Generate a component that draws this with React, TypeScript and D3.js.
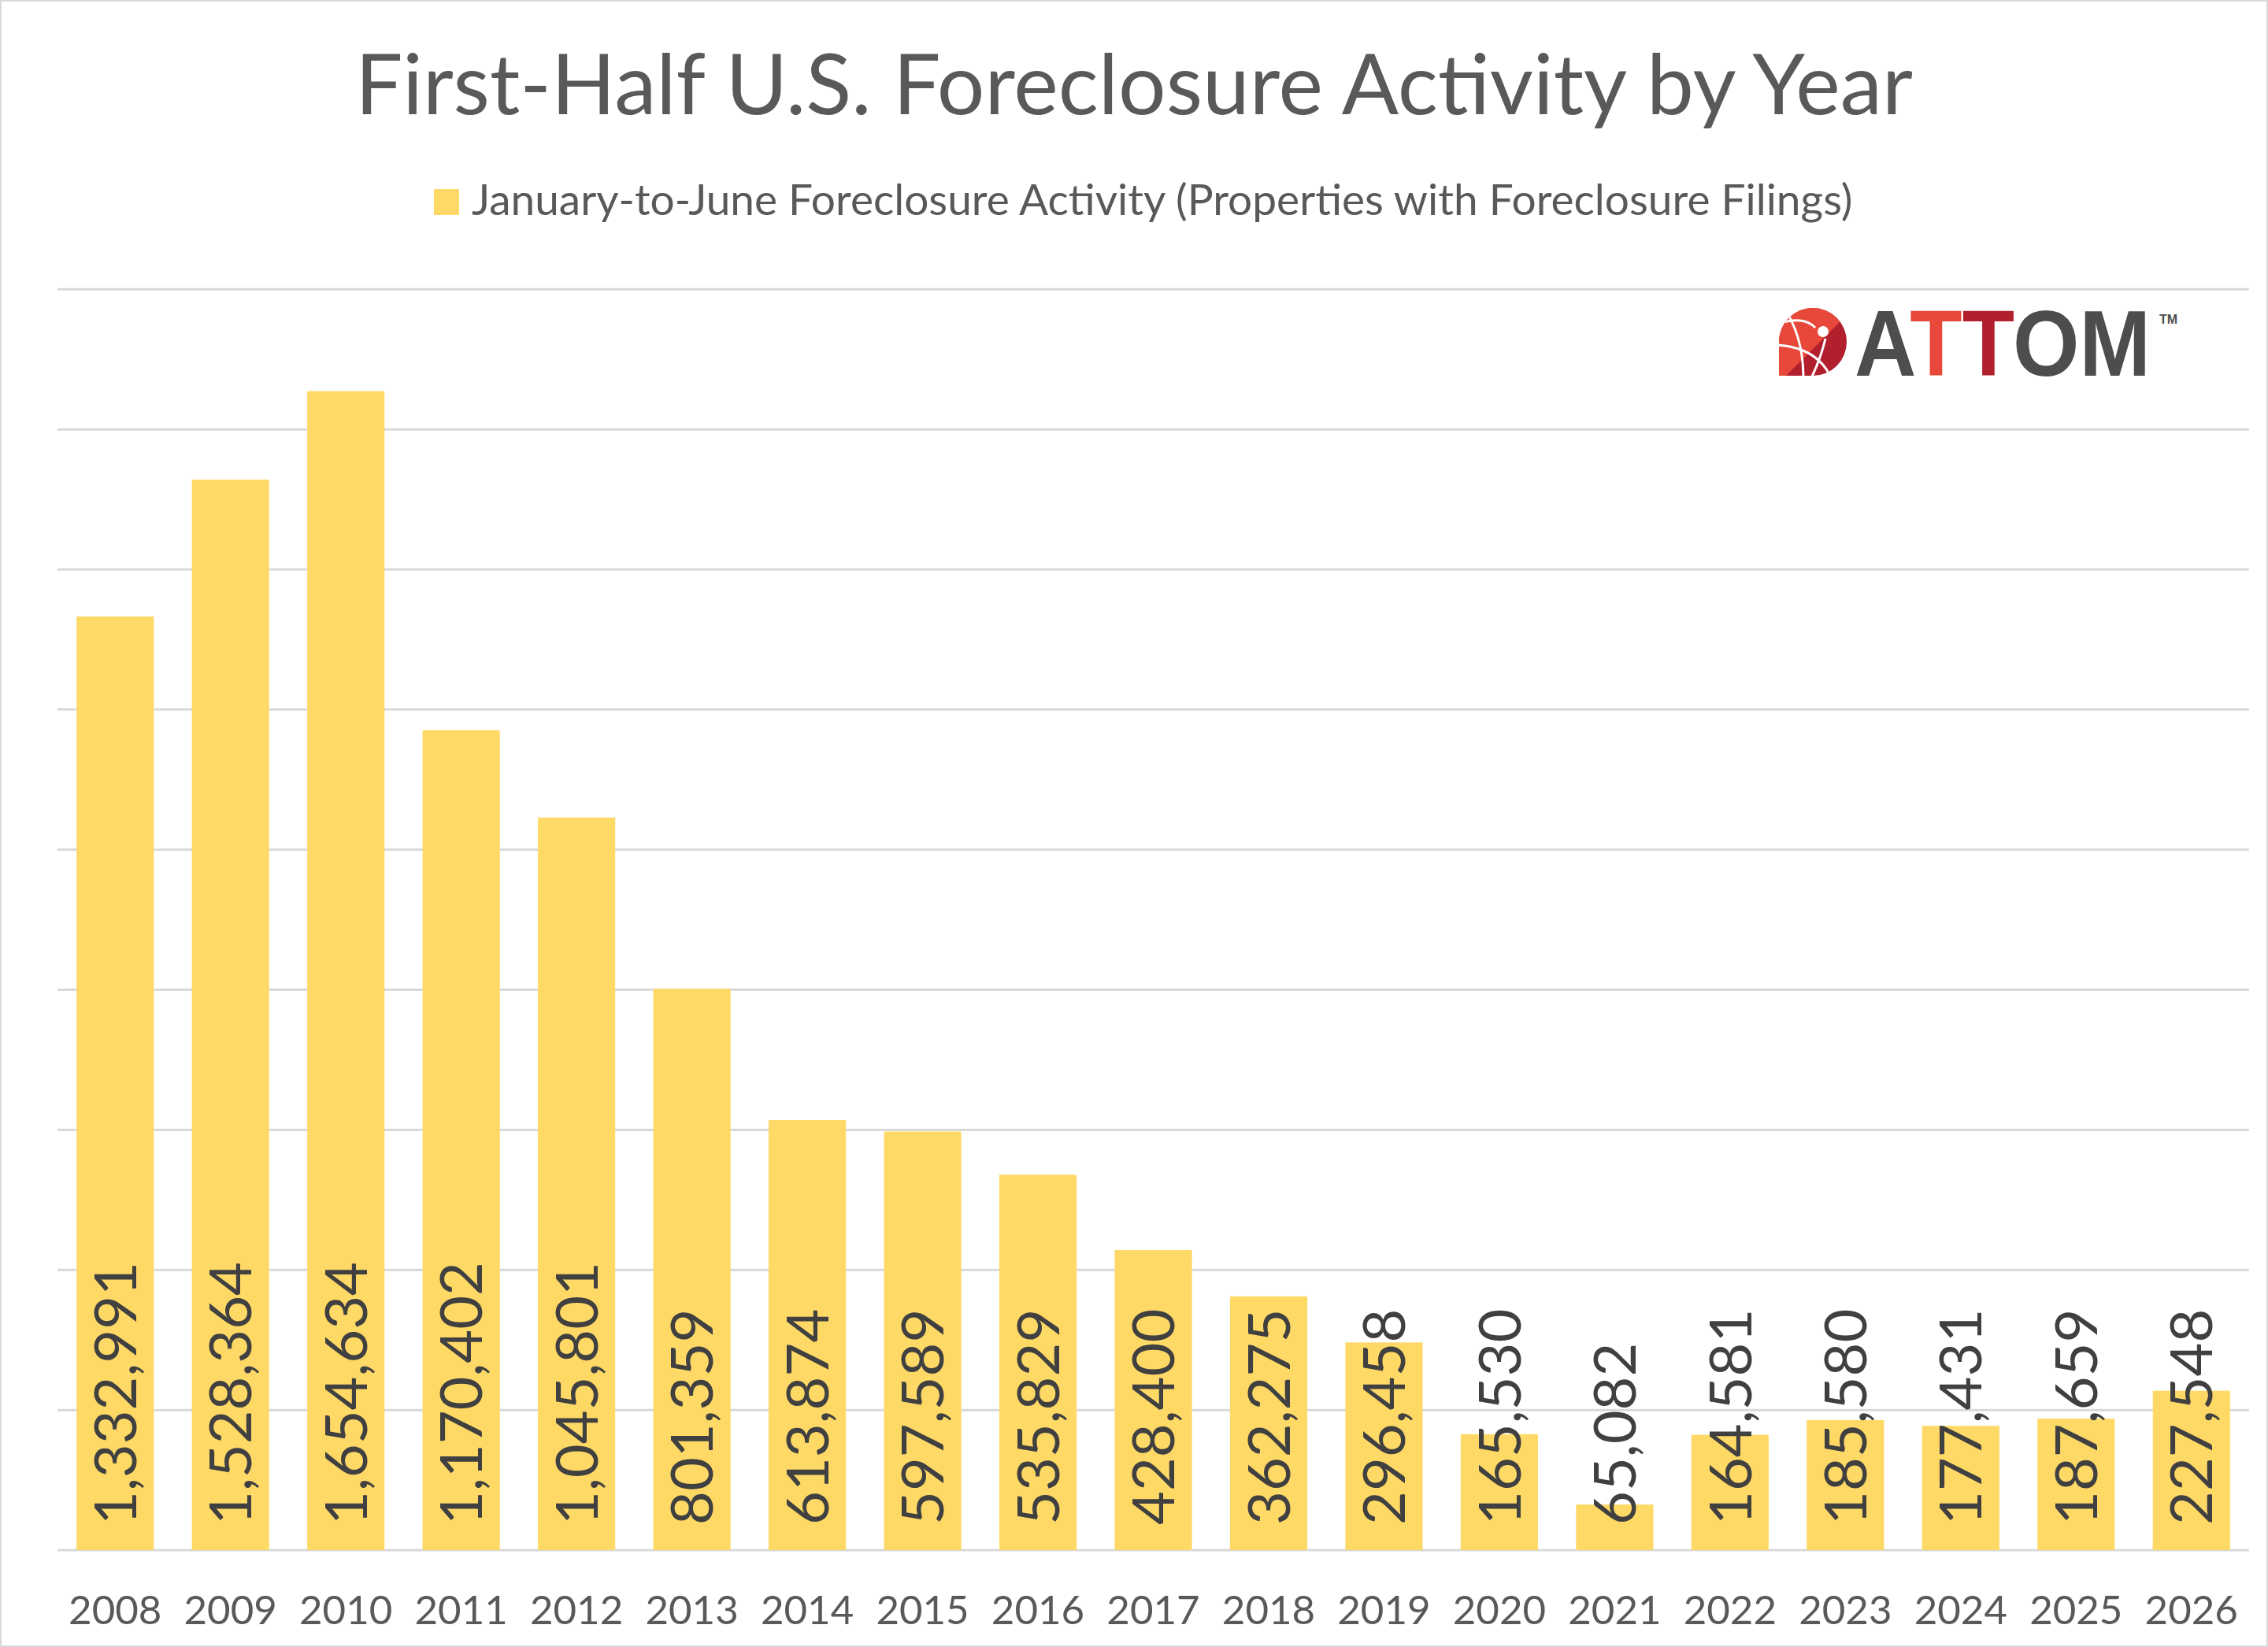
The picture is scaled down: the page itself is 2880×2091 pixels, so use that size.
import React from 'react';
import * as d3 from 'd3';

const years = ['2008', '2009', '2010', '2011', '2012', '2013', '2014', '2015', '2016', '2017', '2018', '2019', '2020', '2021', '2022', '2023', '2024', '2025', '2026'];
const filings = [1332991, 1528364, 1654634, 1170402, 1045801, 801359, 613874, 597589, 535829, 428400, 362275, 296458, 165530, 65082, 164581, 185580, 177431, 187659, 227548];
const gridTicks = [0, 200000, 400000, 600000, 800000, 1000000, 1200000, 1400000, 1600000, 1800000];

const seriesName = 'January-to-June Foreclosure Activity (Properties with Foreclosure Filings)';
const title = 'First-Half U.S. Foreclosure Activity by Year';

const W = 2880;
const H = 2091;
const plot = { left: 73, right: 2856, top: 367.3, bottom: 1968 };
const font = 'Lato, Carlito, sans-serif';

const AttomLogo = () => (
  <g>
    <defs>
      <clipPath id="attom-icon">
        <path d="M2259 434 A43 43 0 1 1 2302 477 L2259 477 Z" />
      </clipPath>
    </defs>
    <g clipPath="url(#attom-icon)">
      <rect x={2255} y={388} width={95} height={95} fill="#b21f2d" />
      <path d="M2255 388 L2350 388 L2345 400 L2262 483 L2255 483 Z" fill="#e8483a" />
      {/* white orbit lines */}
      <path d="M2255 412 Q2290 400 2305 416" fill="none" stroke="#fff" strokeWidth={3} />
      <path d="M2255 438 Q2300 440 2320 470 L2325 480" fill="none" stroke="#fff" strokeWidth={3} />
      <path d="M2268 395 Q2290 430 2290 480" fill="none" stroke="#fff" strokeWidth={3} />
      <path d="M2318 430 Q2312 455 2300 480" fill="none" stroke="#fff" strokeWidth={3} />
      <circle cx={2315} cy={421} r={7} fill="#fff" />
    </g>
    <text x={2355} y={477} textLength={376} lengthAdjust="spacingAndGlyphs"
      fontFamily="'Liberation Sans', Arial, sans-serif" fontWeight={700} fontSize={118} fill="#4d4d4d">
      A<tspan fill="#e8483a">T</tspan><tspan fill="#b21f2d">T</tspan>OM
    </text>
    <text x={2742} y={411} fontFamily="'Liberation Sans', Arial, sans-serif" fontWeight={700} fontSize={16} fill="#4d4d4d">TM</text>
  </g>
);

export default function App() {
  const x = d3.scaleBand<string>()
    .domain(years)
    .range([plot.left, plot.right])
    .paddingInner(0.33)
    .paddingOuter(0.165);

  const y = d3.scaleLinear()
    .domain([0, 1800000])
    .range([plot.bottom, plot.top]);

  const fmt = d3.format(',');

  return (
    <div>
      <style>{'body{margin:0}'}</style>
      <svg width={W} height={H} style={{ display: 'block' }}>
        <rect x={1} y={1} width={W - 2} height={H - 2} fill="#fff" stroke="#d9d9d9" strokeWidth={2} />

        <text x={W / 2} y={145} textAnchor="middle" fontFamily={font} fontSize={107} fill="#595959">{title}</text>

        {/* legend */}
        <rect x={551} y={240} width={32} height={33} fill="#ffd966" />
        <text x={599} y={273} fontFamily={font} fontSize={55} fill="#595959">{seriesName}</text>

        {/* gridlines */}
        {gridTicks.map(t => (
          <line key={t} x1={plot.left} x2={plot.right} y1={y(t)} y2={y(t)} stroke="#d9d9d9" strokeWidth={3} />
        ))}

        {/* bars */}
        {years.map((yr, i) => (
          <rect key={yr} x={x(yr)} y={y(filings[i])} width={x.bandwidth()} height={y(0) - y(filings[i])} fill="#ffd966" />
        ))}

        {/* data labels, rotated, anchored at the base */}
        {years.map((yr, i) => {
          const cx = (x(yr) as number) + x.bandwidth() / 2;
          const ly = y(0) - 32;
          return (
            <text key={yr} transform={`translate(${cx},${ly}) rotate(-90)`} dy="0.36em"
              fontFamily={font} fontSize={74} fill="#404040">{fmt(filings[i])}</text>
          );
        })}

        {/* category labels */}
        {years.map(yr => (
          <text key={yr} x={(x(yr) as number) + x.bandwidth() / 2} y={2062} textAnchor="middle"
            fontFamily={font} fontSize={51} fill="#595959">{yr}</text>
        ))}

        <AttomLogo />
      </svg>
    </div>
  );
}
